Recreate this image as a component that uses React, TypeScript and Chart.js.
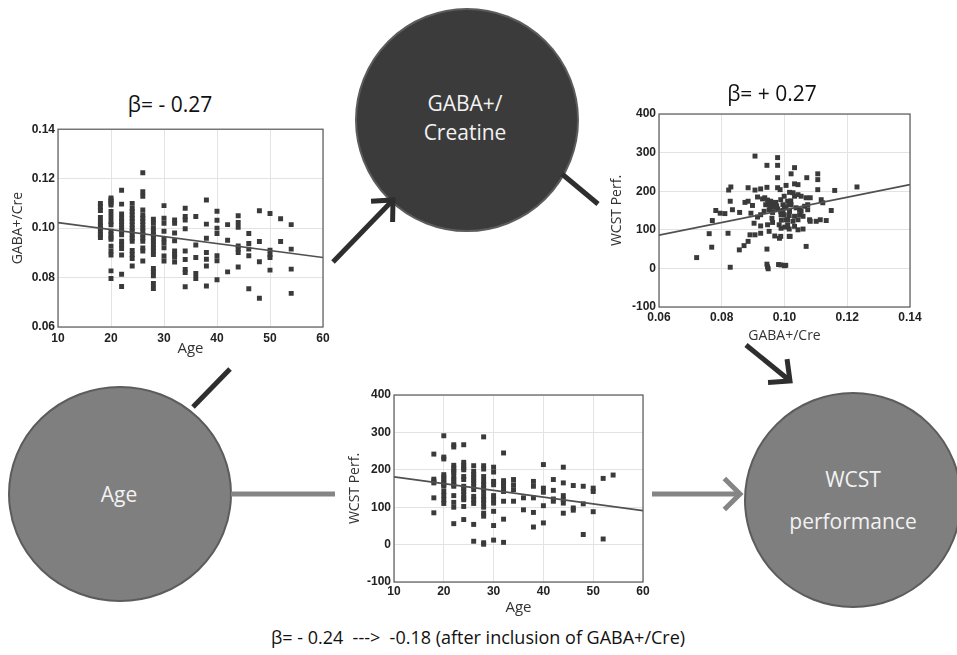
import React, { useEffect, useRef } from "react";
import { Chart, registerables } from "chart.js";

Chart.register(...registerables);

// ---------- Panel 1: Age vs GABA+/Cre ----------
const AGE_GROUPS_1 = [18, 20, 22, 24, 26, 28, 30, 32, 34, 36, 38, 40, 42, 44, 46, 48, 50, 52, 54];
const GABA_BY_AGE = [
  [0.1100, 0.1086, 0.1071, 0.1043, 0.1024, 0.1010, 0.1000, 0.0987, 0.0973, 0.0962],
  [0.1122, 0.1115, 0.1108, 0.1100, 0.1093, 0.1067, 0.1047, 0.1027, 0.1013, 0.0987, 0.0975, 0.0963, 0.0955, 0.0927, 0.0907, 0.0891, 0.0827, 0.0796],
  [0.1153, 0.1097, 0.1057, 0.1040, 0.1027, 0.1013, 0.1000, 0.0987, 0.0973, 0.0947, 0.0933, 0.0917, 0.0891, 0.0813, 0.0764],
  [0.1100, 0.1080, 0.1067, 0.1053, 0.1040, 0.1027, 0.1013, 0.1000, 0.0987, 0.0973, 0.0960, 0.0947, 0.0909, 0.0893, 0.0877, 0.0847],
  [0.1224, 0.1147, 0.1129, 0.1073, 0.1053, 0.1040, 0.1027, 0.1013, 0.1000, 0.0987, 0.0973, 0.0960, 0.0947, 0.0920, 0.0907, 0.0867],
  [0.1036, 0.1020, 0.1000, 0.0987, 0.0973, 0.0960, 0.0947, 0.0933, 0.0920, 0.0907, 0.0893, 0.0837, 0.0824, 0.0807, 0.0776, 0.0756],
  [0.1091, 0.1040, 0.1020, 0.0987, 0.0957, 0.0940, 0.0920, 0.0887, 0.0867],
  [0.1033, 0.1020, 0.0980, 0.0949, 0.0907, 0.0893, 0.0883, 0.0863],
  [0.1080, 0.1047, 0.1033, 0.0997, 0.0907, 0.0873, 0.0833, 0.0820, 0.0763],
  [0.1047, 0.0932, 0.0881, 0.0816, 0.0796],
  [0.1114, 0.1016, 0.0959, 0.0901, 0.0874, 0.0847, 0.0766],
  [0.1068, 0.1032, 0.1000, 0.0978, 0.0888, 0.0868, 0.0791],
  [0.1014, 0.0951, 0.0823],
  [0.1050, 0.1023, 0.1003, 0.0928, 0.0915, 0.0901, 0.0843],
  [0.0978, 0.0938, 0.0915, 0.0888, 0.0755],
  [0.1070, 0.0946, 0.0864, 0.0716],
  [0.1059, 0.0911, 0.0893, 0.0881, 0.0830],
  [0.1038, 0.0946],
  [0.1014, 0.0915, 0.0834, 0.0736],
];
const FIT1_X = [10, 60];
const FIT1_Y = [0.1022, 0.0881];
const AGE_TICKS = [10, 20, 30, 40, 50, 60];
const GABA_TICKS = [0.06, 0.08, 0.1, 0.12, 0.14];

// ---------- Panel 2: GABA+/Cre vs WCST ----------
const GABA_VALUES = [
  0.0906, 0.0978, 0.0978, 0.0944, 0.0978, 0.0829, 0.0822, 0.0884, 0.0906, 0.0924,
  0.0944, 0.0978, 0.0986, 0.0827, 0.0781, 0.0795, 0.0810, 0.0834, 0.0857, 0.0874,
  0.0884, 0.0898, 0.0914, 0.0930, 0.0937, 0.0946, 0.0956, 0.0962, 0.0967, 0.0972,
  0.0988, 0.0999, 0.1010, 0.1015, 0.0893, 0.0914, 0.0924, 0.0935, 0.0951, 0.0962,
  0.0978, 0.0988, 0.0999, 0.1010, 0.1015, 0.0770, 0.0903, 0.0924, 0.0946, 0.0962,
  0.0983, 0.1001, 0.1015, 0.0760, 0.0820, 0.0890, 0.0906, 0.0924, 0.0951, 0.0969,
  0.0988, 0.1015, 0.0884, 0.0871, 0.0856, 0.0768, 0.0944, 0.0720, 0.0827, 0.0944,
  0.0946, 0.0948, 0.0981, 0.1004,
  0.1032, 0.1021, 0.1106, 0.1106, 0.1071, 0.1231, 0.1160, 0.1106, 0.1005, 0.1032,
  0.1043, 0.1016, 0.1027, 0.1032, 0.1043, 0.1053, 0.1069, 0.1082, 0.1117, 0.1122,
  0.1074, 0.0995, 0.1000, 0.1021, 0.1037, 0.1048, 0.1064, 0.1074, 0.0989, 0.1016,
  0.1032, 0.1048, 0.1053, 0.1149, 0.1005, 0.1027, 0.1043, 0.1059, 0.1080, 0.1082,
  0.1101, 0.1114, 0.1133, 0.1010, 0.1032, 0.1043, 0.1059, 0.0989, 0.0984, 0.1018,
  0.1069, 0.0989, 0.1000,
  0.0955, 0.0965, 0.0975, 0.0995, 0.1005, 0.0940, 0.0950, 0.1020, 0.0960, 0.0990,
];
const WCST_VALUES = [
  291, 287, 267, 267, 235, 211, 203, 209, 203, 206,
  210, 209, 204, 174, 150, 143, 142, 152, 145, 171,
  174, 163, 185, 180, 183, 177, 174, 170, 165, 171,
  178, 187, 174, 165, 143, 133, 139, 148, 152, 145,
  154, 148, 139, 126, 137, 124, 117, 110, 113, 119,
  113, 107, 102, 90, 91, 87, 87, 91, 96, 84,
  83, 83, 70, 59, 48, 55, 50, 28, 3, 11,
  4, -1, 10, 8,
  261, 245, 245, 230, 235, 211, 202, 204, 215, 219,
  217, 197, 196, 187, 191, 187, 183, 183, 178, 170,
  165, 165, 157, 165, 157, 152, 161, 152, 139, 148,
  135, 139, 148, 150, 126, 122, 126, 135, 126, 122,
  122, 126, 124, 113, 109, 100, 102, 104, 78, 83,
  57, 9, 7,
  160, 158, 162, 150, 160, 165, 168, 175, 130, 125,
];
const FIT2_X = [0.06, 0.14];
const FIT2_Y = [86, 217];
const GABA_X_TICKS = [0.06, 0.08, 0.1, 0.12, 0.14];
const WCST_TICKS = [-100, 0, 100, 200, 300, 400];

// ---------- Panel 3: Age vs WCST ----------
const AGE_GROUPS_3 = [18, 20, 22, 24, 26, 28, 30, 32, 34, 36, 38, 40, 42, 44, 46, 48, 50, 52, 54];
const WCST_BY_AGE = [
  [242, 175, 170, 165, 125, 85],
  [291, 234, 229, 187, 180, 173, 166, 160, 156, 142, 131, 120, 110],
  [267, 261, 212, 205, 197, 193, 182, 175, 168, 160, 156, 131, 113, 100, 56],
  [267, 220, 212, 205, 200, 182, 174, 156, 150, 142, 134, 125, 120, 102, 67],
  [211, 196, 187, 180, 172, 165, 156, 147, 129, 120, 110, 54, 9],
  [288, 211, 202, 182, 169, 160, 151, 142, 129, 120, 111, 100, 84, 76, 5, 1],
  [207, 194, 169, 160, 131, 120, 111, 89, 51, 12],
  [245, 171, 164, 157, 149, 142, 116, 68, 6],
  [174, 160, 147, 116],
  [125, 93],
  [169, 156, 125, 86, 47],
  [214, 151, 140, 104, 58],
  [174, 145, 122, 116],
  [207, 165, 131, 120, 111, 84],
  [158, 98, 92],
  [156, 109, 27],
  [151, 142, 88],
  [177, 15],
  [186],
];
const FIT3_X = [10, 60];
const FIT3_Y = [181, 91];

// ---------- helpers ----------
const TICK_FAMILY = "'Liberation Sans', Arial, sans-serif";
const TEXT_FAMILY = "'Open Sans', sans-serif";

const groupPoints = (groups: number[], values: number[][]) =>
  groups.flatMap((x, i) => values[i].map((y) => ({ x, y })));
const pairPoints = (xs: number[], ys: number[]) => xs.map((x, i) => ({ x, y: ys[i] }));

const framePlugin = {
  id: "frame",
  afterDatasetsDraw(chart: any) {
    const { ctx, chartArea: a } = chart;
    ctx.save();
    ctx.strokeStyle = "#5a5a5a";
    ctx.lineWidth = 1.2;
    ctx.strokeRect(a.left, a.top, a.right - a.left, a.bottom - a.top);
    ctx.restore();
  },
};

type PanelSpec = {
  left: number; top: number; width: number; height: number;
  pad: { left: number; top: number; right: number; bottom: number };
  yWidth: number; xHeight: number;
  points: { x: number; y: number }[];
  fit: { x: number; y: number }[];
  xMin: number; xMax: number; xTicks: number[]; xDec: number; xTitle: string; xTitleSize: number; xTitlePad: number; xTickPad: number;
  yMin: number; yMax: number; yTicks: number[]; yDec: number; yTitle: string; yTitleSize: number; yTitlePad: number;
  tickSize: number;
};

function Panel({ s }: { s: PanelSpec }) {
  const ref = useRef<HTMLCanvasElement | null>(null);
  useEffect(() => {
    if (!ref.current) return;
    const tickFont = { family: TICK_FAMILY, size: s.tickSize, weight: "bold" as const };
    const chart = new Chart(ref.current, {
      type: "scatter",
      data: {
        datasets: [
          {
            type: "scatter",
            data: s.points,
            pointStyle: "rect",
            pointRadius: 3.5,
            backgroundColor: "#3a3a3a",
            borderWidth: 0,
            order: 2,
          } as any,
          {
            type: "line",
            data: s.fit,
            borderColor: "#505050",
            borderWidth: 1.7,
            pointRadius: 0,
            fill: false,
            order: 1,
          } as any,
        ],
      },
      options: {
        responsive: false,
        animation: false,
        layout: { padding: s.pad },
        plugins: { legend: { display: false }, tooltip: { enabled: false }, title: { display: false } },
        scales: {
          x: {
            type: "linear",
            min: s.xMin,
            max: s.xMax,
            afterBuildTicks: (sc: any) => { sc.ticks = s.xTicks.map((v) => ({ value: v })); },
            afterFit: (sc: any) => { sc.height = s.xHeight; },
            ticks: {
              font: tickFont,
              color: "#222",
              padding: s.xTickPad,
              maxRotation: 0,
              autoSkip: false,
              callback: (v: any) => Number(v).toFixed(s.xDec),
            },
            grid: { color: "#e3e3e3", drawTicks: false },
            border: { display: false },
            title: {
              display: true,
              text: s.xTitle,
              font: { family: TEXT_FAMILY, size: s.xTitleSize },
              color: "#333",
              padding: { top: 0, bottom: s.xTitlePad },
            },
          },
          y: {
            type: "linear",
            min: s.yMin,
            max: s.yMax,
            afterBuildTicks: (sc: any) => { sc.ticks = s.yTicks.map((v) => ({ value: v })); },
            afterFit: (sc: any) => { sc.width = s.yWidth; },
            ticks: {
              font: tickFont,
              color: "#222",
              padding: 3,
              autoSkip: false,
              callback: (v: any) => Number(v).toFixed(s.yDec),
            },
            grid: { color: "#e3e3e3", drawTicks: false },
            border: { display: false },
            title: {
              display: true,
              text: s.yTitle,
              font: { family: TEXT_FAMILY, size: s.yTitleSize },
              color: "#333",
              padding: { top: s.yTitlePad, bottom: 0 },
            },
          },
        },
      } as any,
      plugins: [framePlugin],
    });
    return () => chart.destroy();
  }, [s]);
  return (
    <canvas
      ref={ref}
      width={s.width}
      height={s.height}
      style={{ position: "absolute", left: s.left, top: s.top, width: s.width, height: s.height }}
    />
  );
}

const PANEL1: PanelSpec = {
  left: 0, top: 119, width: 340, height: 240,
  pad: { left: 0, top: 10, right: 17, bottom: 0 },
  yWidth: 58, xHeight: 32,
  points: groupPoints(AGE_GROUPS_1, GABA_BY_AGE),
  fit: pairPoints(FIT1_X, FIT1_Y),
  xMin: 10, xMax: 60, xTicks: AGE_TICKS, xDec: 0, xTitle: "Age", xTitleSize: 15, xTitlePad: 1, xTickPad: 4,
  yMin: 0.06, yMax: 0.14, yTicks: GABA_TICKS, yDec: 2, yTitle: "GABA+/Cre", yTitleSize: 14, yTitlePad: 10,
  tickSize: 12,
};

const PANEL2: PanelSpec = {
  left: 590, top: 100, width: 340, height: 250,
  pad: { left: 0, top: 14, right: 20, bottom: 0 },
  yWidth: 69, xHeight: 43,
  points: pairPoints(GABA_VALUES, WCST_VALUES),
  fit: pairPoints(FIT2_X, FIT2_Y),
  xMin: 0.06, xMax: 0.14, xTicks: GABA_X_TICKS, xDec: 2, xTitle: "GABA+/Cre", xTitleSize: 14, xTitlePad: 6, xTickPad: 3,
  yMin: -100, yMax: 400, yTicks: WCST_TICKS, yDec: 0, yTitle: "WCST Perf.", yTitleSize: 14, yTitlePad: 19,
  tickSize: 12,
};

const PANEL3: PanelSpec = {
  left: 330, top: 380, width: 330, height: 240,
  pad: { left: 0, top: 15, right: 17, bottom: 0 },
  yWidth: 64, xHeight: 38,
  points: groupPoints(AGE_GROUPS_3, WCST_BY_AGE),
  fit: pairPoints(FIT3_X, FIT3_Y),
  xMin: 10, xMax: 60, xTicks: AGE_TICKS, xDec: 0, xTitle: "Age", xTitleSize: 15, xTitlePad: 3, xTickPad: 2,
  yMin: -100, yMax: 400, yTicks: WCST_TICKS, yDec: 0, yTitle: "WCST Perf.", yTitleSize: 14, yTitlePad: 17,
  tickSize: 12,
};

// decorative arrow helper (diagram connectors, not data)
function chevron(x1: number, y1: number, x2: number, y2: number, len: number, ang: number) {
  const a = Math.atan2(y2 - y1, x2 - x1);
  const p1 = [x2 - len * Math.cos(a - ang), y2 - len * Math.sin(a - ang)];
  const p2 = [x2 - len * Math.cos(a + ang), y2 - len * Math.sin(a + ang)];
  return `${p1[0]},${p1[1]} ${x2},${y2} ${p2[0]},${p2[1]}`;
}

const DARK = "#2e2e2e";
const GRAY = "#858585";

function Diagram() {
  return (
    <svg width={957} height={655} style={{ position: "absolute", left: 0, top: 0 }}>
      {/* circles */}
      <circle cx={467} cy={120} r={111} fill="#3b3b3b" stroke="#5c5c5c" strokeWidth={2} />
      <ellipse cx={120} cy={494} rx={111} ry={107} fill="#7f7f7f" stroke="#5c5c5c" strokeWidth={2} />
      <ellipse cx={853} cy={500} rx={108} ry={107} fill="#7f7f7f" stroke="#5c5c5c" strokeWidth={2} />
      <g fontFamily={TEXT_FAMILY} fontSize={21} fill="#f2f2f2" textAnchor="middle">
        <text x={465} y={111}>GABA+/</text>
        <text x={465} y={140}>Creatine</text>
        <text x={119} y={502}>Age</text>
        <text x={853} y={487}>WCST</text>
        <text x={853} y={529}>performance</text>
      </g>
      {/* connectors */}
      <line x1={193} y1={407} x2={230} y2={369} stroke={DARK} strokeWidth={5} />
      <line x1={333} y1={262} x2={392} y2={201} stroke={DARK} strokeWidth={5} />
      <polyline points={chevron(333, 262, 393, 200, 22, 0.75)} fill="none" stroke={DARK} strokeWidth={5} />
      <line x1={562} y1={174} x2={598} y2={204} stroke={DARK} strokeWidth={5} />
      <line x1={746} y1={345} x2={789} y2={380} stroke={DARK} strokeWidth={5} />
      <polyline points={chevron(746, 345, 790, 381, 22, 0.75)} fill="none" stroke={DARK} strokeWidth={5} />
      <line x1={231} y1={494} x2={335} y2={494} stroke={GRAY} strokeWidth={5} />
      <line x1={652} y1={494} x2={738} y2={494} stroke={GRAY} strokeWidth={5} />
      <polyline points={chevron(652, 494, 740, 494, 22, 0.78)} fill="none" stroke={GRAY} strokeWidth={5} />
    </svg>
  );
}

const labelStyle = (x: number, y: number, size: number): React.CSSProperties => ({
  position: "absolute",
  left: x,
  top: y,
  transform: "translate(-50%, -50%)",
  whiteSpace: "nowrap",
  fontFamily: TEXT_FAMILY,
  fontSize: size,
  color: "#111",
  lineHeight: 1,
});

export default function App() {
  return (
    <div style={{ position: "absolute", left: 0, top: 0, width: 957, height: 655, background: "#fff", overflow: "hidden" }}>
      <Diagram />
      <Panel s={PANEL1} />
      <Panel s={PANEL2} />
      <Panel s={PANEL3} />
      <div style={labelStyle(170, 104, 21)}>β= - 0.27</div>
      <div style={labelStyle(772, 93, 21)}>β= + 0.27</div>
      <div style={labelStyle(478, 637, 18)}>β= - 0.24&nbsp;&nbsp;---&gt;&nbsp; -0.18 (after inclusion of GABA+/Cre)</div>
    </div>
  );
}
